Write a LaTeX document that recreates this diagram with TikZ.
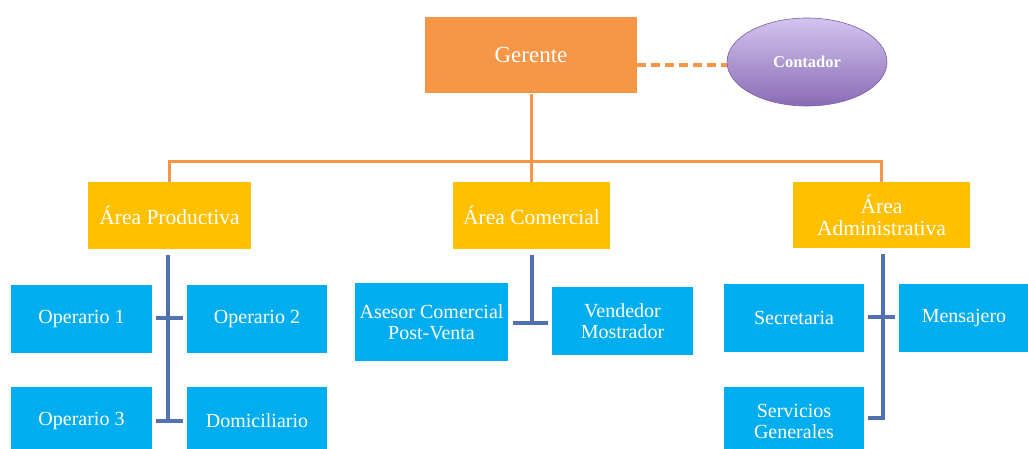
\documentclass[tikz,border=0pt]{standalone}
\usepackage{fontspec}
\setmainfont{Liberation Serif}
\usetikzlibrary{shapes.geometric}
\definecolor{gerorange}{HTML}{F79646}
\definecolor{areagold}{HTML}{FFC000}
\definecolor{staffblue}{HTML}{00ADEF}
\definecolor{linkblue}{HTML}{5171B0}
\definecolor{purpletop}{HTML}{D3C4EE}
\definecolor{purplebot}{HTML}{8A6BB5}
\definecolor{purpleedge}{HTML}{7A5DA3}
\tikzset{
  base/.style={rectangle, inner sep=0pt, align=center, text=white},
  gerbox/.style={base, fill=gerorange, font=\fontsize{23}{25}\selectfont},
  areabox/.style={base, fill=areagold, font=\fontsize{21.5}{23}\selectfont},
  staffbox/.style={base, fill=staffblue, font=\fontsize{20}{22}\selectfont},
  orgline/.style={draw=gerorange, line width=3pt},
  dashline/.style={draw=gerorange, line width=3.5pt, dash pattern=on 9pt off 5pt},
  blueline/.style={draw=linkblue, line width=3.5pt},
}
\begin{document}
\begin{tikzpicture}[x=1pt,y=-1pt]
\useasboundingbox (0,0) rectangle (1028,449);
\fill[white] (0,0) rectangle (1028,449);

% top
\node[gerbox, minimum width=212pt, minimum height=76pt] (ger) at (531,55.5) {Gerente};
\node[ellipse, inner sep=0pt, minimum width=160pt, minimum height=88pt,
      top color=purpletop, bottom color=purplebot, draw=purpleedge, line width=0.6pt,
      text=white, font=\bfseries\fontsize{16.5}{18}\selectfont] (con) at (807,62) {Contador};
\draw[dashline] (ger.east |- 0,65) -- (con.west |- 0,65);

% areas
\node[areabox, minimum width=163pt, minimum height=67pt] (prod) at (169.5,215.5) {Área Productiva};
\node[areabox, minimum width=157pt, minimum height=67pt] (com) at (531.5,215.5) {Área Comercial};
\node[areabox, minimum width=177pt, minimum height=66pt, text depth=0pt] (adm) at (881.5,215) {Área\\[-1pt]Administrativa};

\coordinate (bus) at (531,162);
\draw[orgline] (ger.south) -- (bus);
\draw[orgline] (prod.north) |- (bus);
\draw[orgline] (adm.north) |- (bus);
\draw[orgline] (com.north) -- (com.north |- bus);

% productive staff
\node[staffbox, minimum width=141pt, minimum height=68pt] (op1) at (81.5,319) {Operario 1};
\node[staffbox, minimum width=140pt, minimum height=68pt] (op2) at (257,319) {Operario 2};
\node[staffbox, minimum width=141pt, minimum height=68pt] (op3) at (81.5,421) {Operario 3};
\node[staffbox, minimum width=140pt, minimum height=68pt] (dom) at (257,421) {Domiciliario};

\coordinate (pj1) at (168,318);
\coordinate (pj2) at (168,421);
\draw[blueline] ([yshift=-6pt]prod.south -| pj1) -- ([yshift=1.75pt]pj2);
\draw[blueline] ([xshift=4pt]op1.east |- pj1) -- ([xshift=-4pt]op2.west |- pj1);
\draw[blueline] ([xshift=4pt]op3.east |- pj2) -- ([xshift=-4pt]dom.west |- pj2);

% commercial staff
\node[staffbox, minimum width=153pt, minimum height=78pt] (ase) at (431.5,322) {Asesor Comercial\\[-1pt]Post-Venta};
\node[staffbox, minimum width=141pt, minimum height=68pt] (ven) at (622.5,321) {Vendedor\\[-1pt]Mostrador};

\coordinate (cj) at (532,323);
\draw[blueline] ([yshift=-6pt]com.south -| cj) -- ([yshift=1.75pt]cj);
\draw[blueline] ([xshift=5pt]ase.east |- cj) -- ([xshift=-4pt]ven.west |- cj);

% administrative staff
\node[staffbox, minimum width=140pt, minimum height=68pt] (sec) at (794,318) {Secretaria};
\node[staffbox, minimum width=130pt, minimum height=68pt] (men) at (964,318) {Mensajero};
\node[staffbox, minimum width=140pt, minimum height=68pt] (ser) at (794,421) {Servicios\\[-1pt]Generales};

\coordinate (aj1) at (883,317);
\coordinate (aj2) at (883,418);
\draw[blueline] ([yshift=-6pt]adm.south -| aj1) -- (aj2) -- ([xshift=4pt]ser.east |- aj2);
\draw[blueline] ([xshift=4pt]sec.east |- aj1) -- ([xshift=-4pt]men.west |- aj1);
\end{tikzpicture}
\end{document}
